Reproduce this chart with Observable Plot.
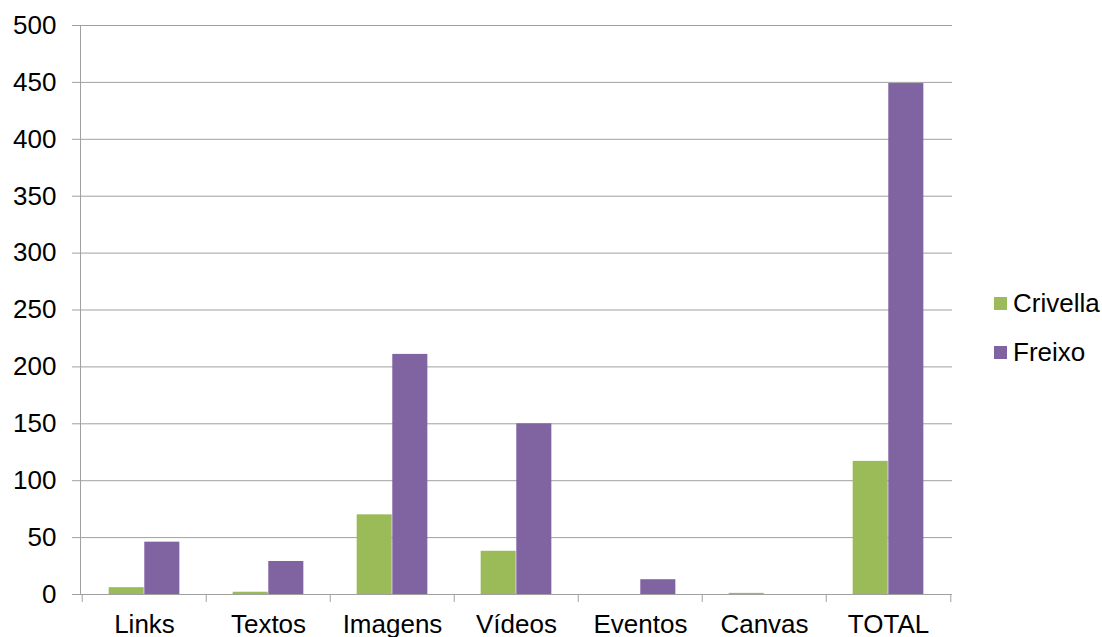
<!DOCTYPE html>
<html>
<head>
<meta charset="utf-8">
<script src="https://cdn.jsdelivr.net/npm/d3@7"></script>
<script src="https://cdn.jsdelivr.net/npm/@observablehq/plot@0.6"></script>
<style>
  body { margin: 0; background: #fff; }
  #wrap { position: relative; width: 1102px; height: 637px; font-family: "Liberation Sans", Arial, sans-serif; }
  #chart svg { display: block; }
  .legend { position: absolute; left: 994px; top: 287px; font-size: 26px; color: #000; }
  .legend .row { display: flex; align-items: center; height: 32px; margin-bottom: 17px; white-space: nowrap; }
  .legend .sw { width: 13px; height: 13px; margin-right: 6px; }
</style>
</head>
<body>
<div id="wrap">
  <div id="chart"></div>
  <div class="legend" id="legend"></div>
</div>
<script>
// Post counts per content type, by candidate
const categories = ["Links", "Textos", "Imagens", "Vídeos", "Eventos", "Canvas", "TOTAL"];
const series = ["Crivella", "Freixo"];
const crivella = [6, 2, 70, 38, 0, 1, 117];
const freixo = [46, 29, 211, 150, 13, 0, 449];
const colors = ["#9BBB59", "#8064A2"];
const yTicks = [0, 50, 100, 150, 200, 250, 300, 350, 400, 450, 500];

const width = 1102, height = 637;
const marginLeft = 80, marginRight = 150, marginTop = 25, marginBottom = 43;
const step = (width - marginLeft - marginRight) / categories.length;
const outer = step * 0.214;   // gap between category edge and the bar pair
const half = step * 0.5;      // bars meet at the category centre

const rows = (vals) => categories.map((c, i) => ({ category: c, value: vals[i] }));
const grid = "#a0a0a0";

const chart = Plot.plot({
  width, height, marginLeft, marginRight, marginTop, marginBottom,
  style: { fontFamily: "'Liberation Sans', Arial, sans-serif", fontSize: "26px", color: "#000", background: "#fff" },
  x: { domain: categories, padding: 0, label: null },
  y: { domain: [0, 500], label: null },
  marks: [
    Plot.gridY(yTicks, { stroke: grid, strokeOpacity: 1 }),
    Plot.barY(rows(crivella), { x: "category", y: "value", fill: colors[0], insetLeft: outer, insetRight: half }),
    Plot.barY(rows(freixo), { x: "category", y: "value", fill: colors[1], insetLeft: half, insetRight: outer }),
    Plot.ruleY([0], { stroke: grid }),
    Plot.frame({ anchor: "left", stroke: grid }),
    // boundary ticks between categories
    Plot.ruleX(categories, { x: d => d, y1: 0, y2: 0, insetBottom: -8, dx: -half, stroke: grid }),
    Plot.ruleX(categories.slice(-1), { x: d => d, y1: 0, y2: 0, insetBottom: -8, dx: half, stroke: grid }),
    Plot.axisY(yTicks, { tickSize: 8, tickPadding: 16, stroke: grid, fill: "#000", fontSize: 26 }),
    Plot.axisX({ tickSize: 0, tickPadding: 20, fill: "#000", fontSize: 26 })
  ]
});
document.getElementById("chart").append(chart);

const legend = document.getElementById("legend");
series.forEach((s, i) => {
  const row = document.createElement("div");
  row.className = "row";
  const sw = document.createElement("span");
  sw.className = "sw";
  sw.style.background = colors[i];
  const label = document.createElement("span");
  label.textContent = s;
  row.append(sw, label);
  legend.append(row);
});
</script>
</body>
</html>
